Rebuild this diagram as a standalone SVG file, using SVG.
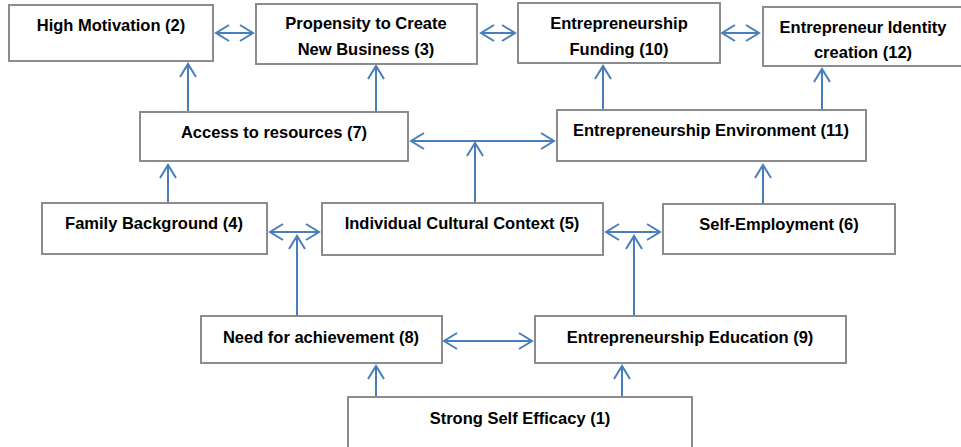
<svg xmlns="http://www.w3.org/2000/svg" width="961" height="447" viewBox="0 0 961 447">
  <style>
    .box { fill: #ffffff; stroke: #8c8c8c; stroke-width: 2; }
    .lbl { font-family: "Liberation Sans", Arial, sans-serif; font-weight: bold; font-size: 16.5px; fill: #000000; text-anchor: middle; }
    .con { fill: none; stroke: #4a7ebb; stroke-width: 2; }
    .one { marker-end: url(#head); }
    .two { marker-start: url(#head); marker-end: url(#head); }
  </style>
  <defs>
    <marker id="head" viewBox="-15 -10 17 20" refX="0" refY="0" markerWidth="17" markerHeight="20" markerUnits="userSpaceOnUse" orient="auto-start-reverse">
      <path d="M-13,-8 L0,0 L-13,8" fill="none" stroke="#4a7ebb" stroke-width="2"/>
    </marker>
  </defs>
  <rect width="961" height="447" fill="#ffffff"/>

  <!-- connectors -->
  <g id="connectors">
    <line class="con two" x1="216" y1="33" x2="253" y2="33"/>
    <line class="con two" x1="481" y1="33" x2="515" y2="33"/>
    <line class="con two" x1="722" y1="33" x2="759" y2="33"/>
    <line class="con one" x1="188" y1="112" x2="188" y2="64"/>
    <line class="con one" x1="376" y1="112" x2="376" y2="66"/>
    <line class="con one" x1="603" y1="110" x2="603" y2="66"/>
    <line class="con one" x1="822" y1="110" x2="822" y2="69"/>
    <line class="con one" x1="475" y1="203" x2="475" y2="143"/>
    <line class="con two" x1="411" y1="141" x2="554" y2="141"/>
    <line class="con one" x1="168" y1="203" x2="168" y2="165"/>
    <line class="con two" x1="270" y1="232" x2="319" y2="232"/>
    <line class="con one" x1="297" y1="316" x2="297" y2="236"/>
    <line class="con two" x1="606" y1="232" x2="660" y2="232"/>
    <line class="con one" x1="634" y1="316" x2="634" y2="236"/>
    <line class="con one" x1="763" y1="204" x2="763" y2="165"/>
    <line class="con two" x1="444" y1="341" x2="532" y2="341"/>
    <line class="con one" x1="376" y1="397" x2="376" y2="366"/>
    <line class="con one" x1="622" y1="397" x2="622" y2="366"/>
  </g>

  <!-- nodes -->
  <g id="n2">
    <rect class="box" x="9" y="5" width="204" height="56"/>
    <text class="lbl" x="111" y="31">High Motivation (2)</text>
  </g>
  <g id="n3">
    <rect class="box" x="256" y="4" width="221" height="60"/>
    <text class="lbl" x="366" y="29">Propensity to Create</text>
    <text class="lbl" x="366" y="55">New Business (3)</text>
  </g>
  <g id="n10">
    <rect class="box" x="518" y="3" width="202" height="60"/>
    <text class="lbl" x="619" y="29">Entrepreneurship</text>
    <text class="lbl" x="619" y="55">Funding (10)</text>
  </g>
  <g id="n12">
    <rect class="box" x="763" y="7" width="199" height="59"/>
    <text class="lbl" x="863" y="33">Entrepreneur Identity</text>
    <text class="lbl" x="863" y="58">creation (12)</text>
  </g>
  <g id="n7">
    <rect class="box" x="140" y="112" width="268" height="49"/>
    <text class="lbl" x="274" y="138">Access to resources (7)</text>
  </g>
  <g id="n11">
    <rect class="box" x="557" y="110" width="309" height="51"/>
    <text class="lbl" x="711" y="136">Entrepreneurship Environment (11)</text>
  </g>
  <g id="n4">
    <rect class="box" x="42" y="203" width="225" height="51"/>
    <text class="lbl" x="154" y="229">Family Background (4)</text>
  </g>
  <g id="n5">
    <rect class="box" x="322" y="203" width="281" height="52"/>
    <text class="lbl" x="462" y="229">Individual Cultural Context (5)</text>
  </g>
  <g id="n6">
    <rect class="box" x="663" y="204" width="232" height="50"/>
    <text class="lbl" x="779" y="230">Self-Employment (6)</text>
  </g>
  <g id="n8">
    <rect class="box" x="201" y="316" width="241" height="47"/>
    <text class="lbl" x="321" y="343">Need for achievement (8)</text>
  </g>
  <g id="n9">
    <rect class="box" x="535" y="316" width="311" height="47"/>
    <text class="lbl" x="690" y="343">Entrepreneurship Education (9)</text>
  </g>
  <g id="n1">
    <rect class="box" x="348" y="397" width="344" height="60"/>
    <text class="lbl" x="520" y="424">Strong Self Efficacy (1)</text>
  </g>
</svg>
